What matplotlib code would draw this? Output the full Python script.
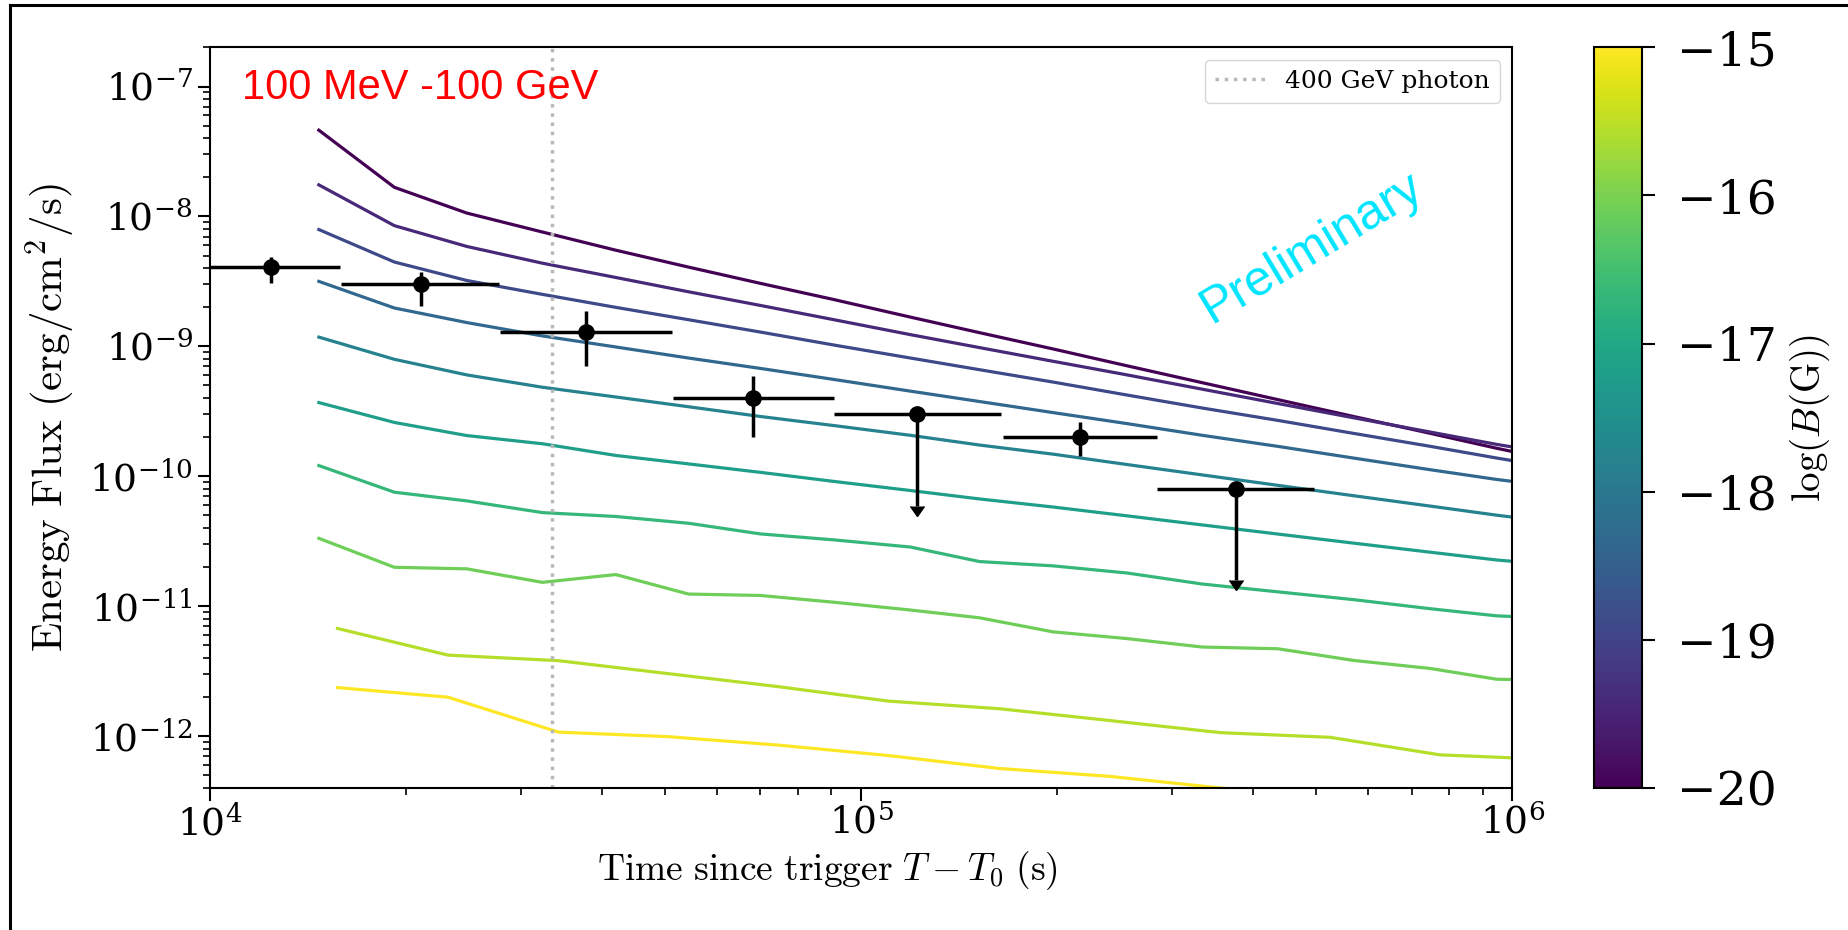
import numpy as np
import matplotlib
matplotlib.use('Agg')
import matplotlib.pyplot as plt
from matplotlib.lines import Line2D
from matplotlib.colors import Normalize
from matplotlib.cm import ScalarMappable

plt.rcParams['font.family'] = 'DejaVu Serif'
plt.rcParams['mathtext.fontset'] = 'cm'

# 模型曲线时间网格 (s)
t_grid = [1.47e4, 1.92e4, 2.48e4, 3.24e4, 4.20e4, 5.43e4, 7.00e4, 9.08e4, 1.19e5,
          1.52e5, 1.97e5, 2.56e5, 3.34e5, 4.36e5, 5.70e5, 7.48e5, 9.46e5, 1.0e6]
t_grid2 = [1.57e4, 2.32e4, 3.43e4, 5.06e4, 7.46e4, 1.10e5, 1.63e5, 2.40e5, 3.56e5,
           5.25e5, 7.74e5, 1.0e6]

# 磁场 log(B/G)
logB = [-20.0, -19.44, -18.89, -18.33, -17.78, -17.22, -16.67, -16.11, -15.56, -15.0]

# 各磁场下的能流 log10(erg/cm^2/s)
logF_1 = [-7.336, -7.776, -7.974, -8.12, -8.26, -8.39, -8.515, -8.64, -8.775,
          -8.895, -9.02, -9.15, -9.28, -9.41, -9.54, -9.67, -9.785, -9.81]
logF_2 = [-7.757, -8.071, -8.231, -8.36, -8.47, -8.58, -8.685, -8.795, -8.91,
          -9.01, -9.115, -9.22, -9.33, -9.44, -9.55, -9.66, -9.755, -9.775]
logF_3 = [-8.101, -8.351, -8.493, -8.60, -8.70, -8.795, -8.89, -8.99, -9.09,
          -9.18, -9.275, -9.375, -9.475, -9.57, -9.67, -9.77, -9.86, -9.88]
logF_4 = [-8.50, -8.705, -8.817, -8.92, -9.005, -9.09, -9.17, -9.255, -9.345,
          -9.425, -9.51, -9.595, -9.685, -9.77, -9.86, -9.95, -10.025, -10.04]
logF_5 = [-8.929, -9.10, -9.22, -9.315, -9.39, -9.465, -9.54, -9.61, -9.685,
          -9.76, -9.83, -9.91, -9.99, -10.07, -10.15, -10.23, -10.30, -10.315]
logF_6 = [-9.433, -9.586, -9.687, -9.75, -9.84, -9.905, -9.97, -10.04, -10.11,
          -10.175, -10.237, -10.305, -10.375, -10.445, -10.515, -10.585, -10.645, -10.655]
logF_7 = [-9.918, -10.123, -10.19, -10.28, -10.31, -10.362, -10.444, -10.49, -10.545,
          -10.657, -10.69, -10.745, -10.83, -10.89, -10.95, -11.02, -11.075, -11.08]
logF_8 = [-10.478, -10.701, -10.713, -10.817, -10.757, -10.907, -10.918, -10.97, -11.03,
          -11.09, -11.198, -11.25, -11.315, -11.328, -11.418, -11.48, -11.563, -11.565]
logF_9 = [-11.172, -11.377, -11.42, -11.52, -11.62, -11.731, -11.79, -11.88, -11.974,
          -12.01, -12.145, -12.168]
logF_10 = [-11.627, -11.701, -11.970, -12.005, -12.07, -12.15, -12.25, -12.31, -12.40,
           -12.47]

curves = [logF_1, logF_2, logF_3, logF_4, logF_5, logF_6, logF_7, logF_8, logF_9, logF_10]

# LAT 观测点
t_obs = [1.24e4, 2.11e4, 3.78e4, 6.82e4, 1.22e5, 2.17e5, 3.76e5]
t_lo = [9.0e3, 1.59e4, 2.79e4, 5.14e4, 9.1e4, 1.65e5, 2.85e5]
t_hi = [1.585e4, 2.78e4, 5.13e4, 9.07e4, 1.64e5, 2.85e5, 4.95e5]
F_obs = [4.06e-9, 3.0e-9, 1.3e-9, 4.0e-10, 3.0e-10, 2.0e-10, 8.0e-11]
F_lo = [3.08e-9, 2.04e-9, 7.1e-10, 2.0e-10, 5.9e-11, 1.42e-10, 1.59e-11]
F_hi = [4.86e-9, 3.76e-9, 1.87e-9, 5.9e-10, 3.0e-10, 2.6e-10, 8.0e-11]
is_ul = [False, False, False, False, True, False, True]

t_photon = 3.3554e4

fig = plt.figure(figsize=(18.49, 9.30), dpi=100)
ax = fig.add_axes([0.1135, 0.153, 0.7045, 0.796])
cax = fig.add_axes([0.862, 0.153, 0.026, 0.796])

cmap = plt.get_cmap('viridis')
norm = Normalize(vmin=-20, vmax=-15)

for b, lf in zip(logB, curves):
    tt = t_grid if len(lf) == len(t_grid) else t_grid2[:len(lf)]
    ax.plot(tt, 10 ** np.array(lf), color=cmap(norm(b)), lw=2.3)

ax.axvline(t_photon, color='#b8b8b8', ls=':', lw=2.5, label='400 GeV photon')

t_obs = np.array(t_obs)
F_obs = np.array(F_obs)
xerr = np.array([t_obs - np.array(t_lo), np.array(t_hi) - t_obs])
yerr = np.array([F_obs - np.array(F_lo), np.array(F_hi) - F_obs])
ul = np.array(is_ul)
det = ~ul

# 探测点
ax.errorbar(t_obs[det], F_obs[det], xerr=xerr[:, det], yerr=yerr[:, det],
            fmt='o', color='black', ms=11, elinewidth=2.5, capsize=0)
# 上限: 水平 bin 与向下箭头分开画
ax.errorbar(t_obs[ul], F_obs[ul], xerr=xerr[:, ul],
            fmt='none', color='black', elinewidth=2.5, capsize=0)
ax.errorbar(t_obs[ul], F_obs[ul], yerr=yerr[0][ul], uplims=True,
            fmt='o', color='black', ms=11, elinewidth=2.5, capsize=5)

ax.set_xscale('log')
ax.set_yscale('log')
ax.set_xlim(1e4, 1e6)
ax.set_ylim(4.0e-13, 2.0e-7)

ax.set_xlabel(r'$\mathrm{Time\ since\ trigger}\ T-T_0\ \mathrm{(s)}$', fontsize=27)
ax.xaxis.set_label_coords(0.474, -0.083)
ax.set_ylabel(r'$\mathrm{Energy\ Flux\ (erg/cm^2/s)}$', fontsize=31, labelpad=8)
ax.tick_params(axis='both', which='major', labelsize=27, length=9, width=1.5)
ax.tick_params(axis='both', which='minor', length=5, width=1.2)
for s in ax.spines.values():
    s.set_linewidth(1.5)

ax.legend(loc='upper right', fontsize=18, handlelength=2.0)

ax.text(0.025, 0.945, '100 MeV -100 GeV', transform=ax.transAxes, color='red',
        fontsize=30, family='Liberation Sans', va='center', ha='left')
ax.text(0.846, 0.729, 'Preliminary', transform=ax.transAxes, color='#00e5ff',
        fontsize=36, family='Liberation Sans', rotation=31,
        ha='center', va='center', rotation_mode='anchor')

sm = ScalarMappable(norm=norm, cmap=cmap)
cb = fig.colorbar(sm, cax=cax)
cb.set_ticks([-15, -16, -17, -18, -19, -20])
cb.ax.tick_params(labelsize=34, length=9, width=1.5, pad=16)
cb.outline.set_linewidth(1.5)
cb.set_label(r'$\log(B(\mathrm{G}))$', fontsize=28, labelpad=8)

# 外框
fig.add_artist(Line2D([10 / 1849, 10 / 1849], [0, 1 - 5 / 930], color='black', lw=2.2))
fig.add_artist(Line2D([10 / 1849, 1], [1 - 5 / 930, 1 - 5 / 930], color='black', lw=2.2))

fig.savefig('out.png', dpi=100)
